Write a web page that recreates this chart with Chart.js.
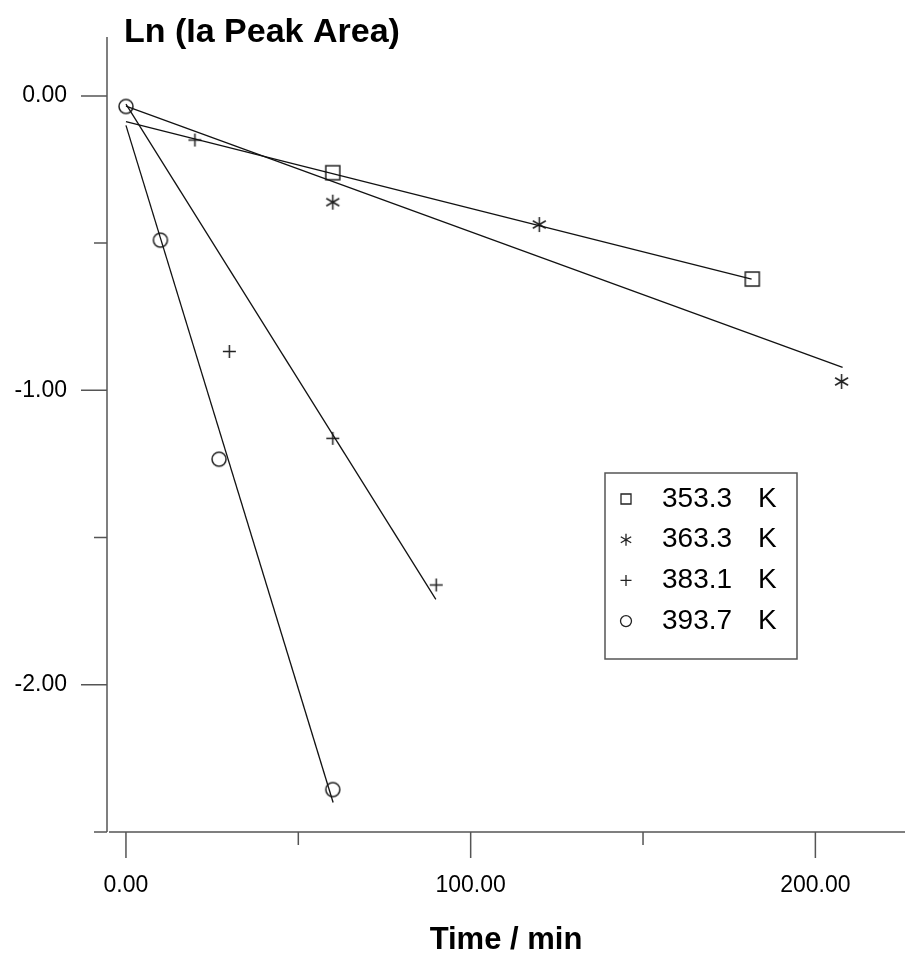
<!DOCTYPE html>
<html>
<head>
<meta charset="utf-8">
<script src="https://cdn.jsdelivr.net/npm/chart.js@4.4.0/dist/chart.umd.min.js"></script>
<style>
html, body { margin: 0; padding: 0; background: #fff; overflow: hidden; }
canvas { display: block; }
</style>
</head>
<body>
<canvas id="myChart" width="905" height="959"></canvas>
<script>
// series: temperature labels and marker kinds
const seriesLabels = ['353.3', '363.3', '383.1', '393.7'];
const seriesUnit = 'K';
const markerTypes = ['square', 'asterisk', 'plus', 'circle'];

// measured points (time / min, ln of peak area)
const t353 = [60, 181.7];
const ln353 = [-0.261, -0.622];
const t363 = [60, 119.9, 207.6];
const ln363 = [-0.361, -0.437, -0.970];
const t383 = [20, 30, 60, 90];
const ln383 = [-0.150, -0.868, -1.163, -1.661];
const t393 = [0, 10, 27, 60];
const ln393 = [-0.036, -0.490, -1.234, -2.356];

// fitted lines (end points)
const fitT353 = [0, 181.5];
const fitLn353 = [-0.087, -0.622];
const fitT363 = [0, 207.9];
const fitLn363 = [-0.035, -0.922];
const fitT383 = [0, 89.9];
const fitLn383 = [-0.028, -1.710];
const fitT393 = [0, 60.1];
const fitLn393 = [-0.100, -2.400];

// axis ticks
const xTicksMajor = [0, 100, 200];
const xTicksMinor = [50, 150];
const yTicksMajor = [0, -1, -2];
const yTicksMinor = [-0.5, -1.5, -2.5];

const yTitle = 'Ln (Ia Peak Area)';
const xTitle = 'Time / min';

const FONT = '"Liberation Sans", Arial, sans-serif';

function drawMarker(c, type, x, y, r) {
    c.beginPath();
    if (type === 'square') {
        c.rect(x - r, y - r, 2 * r, 2 * r);
    } else if (type === 'circle') {
        c.arc(x, y, r, 0, Math.PI * 2);
    } else if (type === 'plus') {
        c.moveTo(x - r, y); c.lineTo(x + r, y);
        c.moveTo(x, y - r); c.lineTo(x, y + r);
    } else if (type === 'asterisk') {
        for (let k = 0; k < 3; k++) {
            let ang = Math.PI / 2 + k * Math.PI / 3;
            let dx = Math.cos(ang) * r, dy = Math.sin(ang) * r;
            c.moveTo(x - dx, y - dy); c.lineTo(x + dx, y + dy);
        }
    }
    c.stroke();
}

function markerCanvas(type, r) {
    let cv = document.createElement('canvas');
    let s = Math.ceil(2 * r + 4);
    cv.width = s; cv.height = s;
    let c = cv.getContext('2d');
    c.strokeStyle = '#222';
    c.lineWidth = 1.5;
    drawMarker(c, type, s / 2, s / 2, r);
    return cv;
}

const markerSize = { square: 7, asterisk: 7.5, plus: 6.5, circle: 7 };
const legendSize = { square: 5, asterisk: 6, plus: 5.5, circle: 5.5 };

function toPoints(xs, ys) {
    return xs.map((v, i) => ({ x: v, y: ys[i] }));
}

const pointSets = [[t353, ln353], [t363, ln363], [t383, ln383], [t393, ln393]];
const fitSets = [[fitT353, fitLn353], [fitT363, fitLn363], [fitT383, fitLn383], [fitT393, fitLn393]];

let datasets = [];
fitSets.forEach(function (f, i) {
    datasets.push({
        label: 'fit ' + seriesLabels[i],
        data: toPoints(f[0], f[1]),
        showLine: true,
        borderColor: '#111',
        borderWidth: 1.3,
        pointRadius: 0
    });
});
pointSets.forEach(function (p, i) {
    datasets.push({
        label: seriesLabels[i],
        data: toPoints(p[0], p[1]),
        showLine: false,
        pointStyle: markerCanvas(markerTypes[i], markerSize[markerTypes[i]]),
        pointRadius: 7
    });
});

function noPadding(scale) {
    scale.paddingTop = 0;
    scale.paddingBottom = 0;
    scale.paddingLeft = 0;
    scale.paddingRight = 0;
}

const axesPlugin = {
    id: 'axesPlugin',
    beforeDatasetsDraw(chart) {
        const { ctx, chartArea: a, scales: { x, y } } = chart;
        ctx.save();
        ctx.strokeStyle = '#555';
        ctx.lineWidth = 1.5;
        ctx.beginPath();
        ctx.moveTo(a.left, a.top); ctx.lineTo(a.left, a.bottom);
        ctx.moveTo(a.left + 2, a.bottom); ctx.lineTo(a.right, a.bottom);
        xTicksMajor.forEach(function (v) {
            let px = x.getPixelForValue(v);
            ctx.moveTo(px, a.bottom); ctx.lineTo(px, a.bottom + 26);
        });
        xTicksMinor.forEach(function (v) {
            let px = x.getPixelForValue(v);
            ctx.moveTo(px, a.bottom); ctx.lineTo(px, a.bottom + 13);
        });
        yTicksMajor.forEach(function (v) {
            let py = y.getPixelForValue(v);
            ctx.moveTo(a.left, py); ctx.lineTo(a.left - 26, py);
        });
        yTicksMinor.forEach(function (v) {
            let py = y.getPixelForValue(v);
            ctx.moveTo(a.left, py); ctx.lineTo(a.left - 13, py);
        });
        ctx.stroke();

        // y axis title at the top
        ctx.fillStyle = '#000';
        ctx.font = 'bold 34px ' + FONT;
        ctx.textAlign = 'left';
        ctx.textBaseline = 'alphabetic';
        ctx.fillText(yTitle, 124, 42);
        ctx.restore();
    },
    afterDraw(chart) {
        const ctx = chart.ctx;
        ctx.save();
        // legend box
        ctx.strokeStyle = '#555';
        ctx.lineWidth = 1.5;
        ctx.strokeRect(605, 473, 192, 186);
        ctx.fillStyle = '#000';
        ctx.font = '28px ' + FONT;
        ctx.textBaseline = 'middle';
        ctx.textAlign = 'left';
        seriesLabels.forEach(function (lab, i) {
            let ry = 499 + i * 40.7;
            ctx.strokeStyle = '#222';
            ctx.lineWidth = 1.3;
            drawMarker(ctx, markerTypes[i], 626, ry, legendSize[markerTypes[i]]);
            ctx.fillText(lab, 662, ry);
            ctx.fillText(seriesUnit, 758, ry);
        });
        ctx.restore();
    }
};

Chart.defaults.font.family = FONT;
Chart.defaults.color = '#000';

let myChart = new Chart(document.getElementById('myChart').getContext('2d'), {
    type: 'scatter',
    data: { datasets: datasets },
    options: {
        responsive: false,
        animation: false,
        layout: { autoPadding: false, padding: { top: 37, right: 0, left: 0, bottom: 0 } },
        plugins: { legend: { display: false }, tooltip: { enabled: false } },
        scales: {
            x: {
                type: 'linear',
                min: -5.5,
                max: 226,
                grid: { display: false, drawTicks: false },
                border: { display: false },
                afterBuildTicks: function (scale) {
                    scale.ticks = xTicksMajor.map(v => ({ value: v }));
                },
                afterFit: function (scale) { scale.height = 127; noPadding(scale); },
                ticks: {
                    padding: 40,
                    maxRotation: 0,
                    font: { size: 23 },
                    callback: v => v.toFixed(2)
                },
                title: {
                    display: true,
                    text: xTitle,
                    font: { size: 31, weight: 'bold' },
                    padding: { top: 0, bottom: 0 }
                }
            },
            y: {
                type: 'linear',
                min: -2.5,
                max: 0.2,
                grid: { display: false, drawTicks: false },
                border: { display: false },
                afterBuildTicks: function (scale) {
                    scale.ticks = yTicksMajor.map(v => ({ value: v }));
                },
                afterFit: function (scale) { scale.width = 107; noPadding(scale); },
                ticks: {
                    padding: 40,
                    font: { size: 23 },
                    callback: v => v.toFixed(2)
                }
            }
        }
    },
    plugins: [axesPlugin]
});
</script>
</body>
</html>
